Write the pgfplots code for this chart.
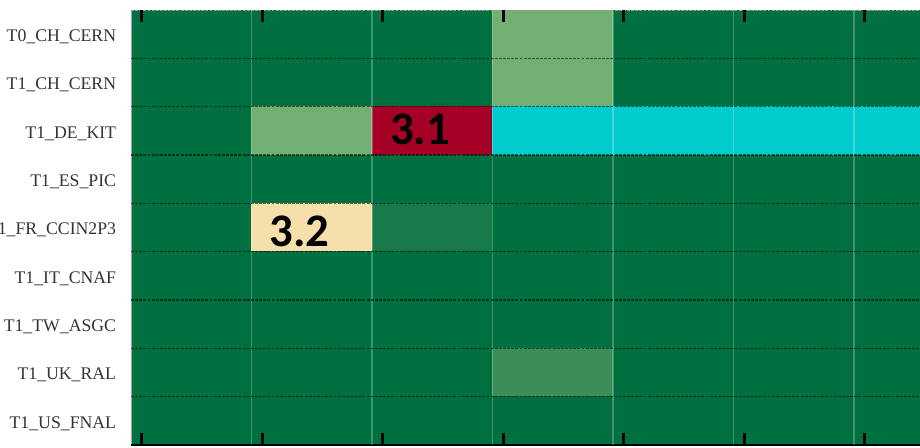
\documentclass[border=0pt]{standalone}
\usepackage{pgfplots}
\pgfplotsset{compat=1.18}
\usepackage{fontspec}
\setmainfont{Liberation Serif}
\newfontfamily\numfont{Carlito}
\definecolor{lab}{RGB}{51,51,51}

\pgfplotsset{colormap={sites}{
  rgb255=(0,112,64)    % 0 dark green
  rgb255=(114,175,114) % 1 light green
  rgb255=(165,0,38)    % 2 crimson
  rgb255=(0,204,206)   % 3 cyan
  rgb255=(245,223,170) % 4 cream
  rgb255=(24,122,72)   % 5 slightly lighter green
  rgb255=(58,143,88)   % 6 mid green
}}

\begin{document}
\begin{tikzpicture}
\begin{axis}[
  at={(0,0)}, anchor=south west,
  scale only axis, width=723pt, height=326.25pt,
  xmin=-0.5, xmax=7.5, ymin=-0.5, ymax=8.5,
  y dir=reverse, enlargelimits=false,
  axis on top,
  axis line style={draw=none},
  colormap name=sites,
  xtick={-0.41,0.59,1.59,2.59,3.59,4.59,5.59,6.59},
  xticklabels={},
  x tick style={black, line width=2.2pt},
  xtick pos=both,
  major tick length=9pt,
  ytick={0,1,2,3,4,5,6,7,8},
  yticklabels={T0\_CH\_CERN,T1\_CH\_CERN,T1\_DE\_KIT,T1\_ES\_PIC,T1\_FR\_CCIN2P3,T1\_IT\_CNAF,T1\_TW\_ASGC,T1\_UK\_RAL,T1\_US\_FNAL},
  y tick style={draw=none},
  yticklabel style={font=\fontsize{13.3}{15}\selectfont, text=lab, inner sep=0pt, xshift=-11pt, yshift=-2pt},
  extra x ticks={0.5,1.5,2.5,3.5,4.5,5.5,6.5},
  extra x tick labels={},
  extra x tick style={grid=major, major grid style={white, opacity=0.25, line width=0.8pt}, tick style={draw=none}},
  extra y ticks={0.5,1.5,2.5,3.5,4.5,5.5,6.5,7.5},
  extra y tick labels={},
  extra y tick style={grid=major, major grid style={black, opacity=0.55, line width=0.8pt, dash pattern=on 2.2pt off 0.9pt}, tick style={draw=none}},
]
\addplot[matrix plot*, mesh/cols=8, point meta=explicit, colormap access=direct]
  table[meta=c] {
x y c
0 0 0
1 0 0
2 0 0
3 0 1
4 0 0
5 0 0
6 0 0
7 0 0
0 1 0
1 1 0
2 1 0
3 1 1
4 1 0
5 1 0
6 1 0
7 1 0
0 2 0
1 2 1
2 2 2
3 2 3
4 2 3
5 2 3
6 2 3
7 2 3
0 3 0
1 3 0
2 3 0
3 3 0
4 3 0
5 3 0
6 3 0
7 3 0
0 4 0
1 4 4
2 4 5
3 4 0
4 4 0
5 4 0
6 4 0
7 4 0
0 5 0
1 5 0
2 5 0
3 5 0
4 5 0
5 5 0
6 5 0
7 5 0
0 6 0
1 6 0
2 6 0
3 6 0
4 6 0
5 6 0
6 6 0
7 6 0
0 7 0
1 7 0
2 7 0
3 7 6
4 7 0
5 7 0
6 7 0
7 7 0
0 8 0
1 8 0
2 8 0
3 8 0
4 8 0
5 8 0
6 8 0
7 8 0
};
\node[font=\numfont\bfseries\fontsize{35}{35}\selectfont, text=black] at (axis cs:1.9,1.96) {3.1};
\node[font=\numfont\bfseries\fontsize{35}{35}\selectfont, text=black] at (axis cs:0.9,4.07) {3.2};
% frame: dashed grey top, grey left, black bottom
\draw[gray!70, line width=0.8pt] (rel axis cs:0,0) -- (rel axis cs:0,1);
\draw[gray!80, line width=0.9pt, dash pattern=on 2.2pt off 0.9pt] (rel axis cs:0,1) -- (rel axis cs:1,1);
\draw[black, line width=1.4pt] (rel axis cs:0,0) -- (rel axis cs:1,0);
\end{axis}
\pgfresetboundingbox
\useasboundingbox (-98.25pt,-2.25pt) rectangle (591.75pt,333.75pt);
\end{tikzpicture}
\end{document}
